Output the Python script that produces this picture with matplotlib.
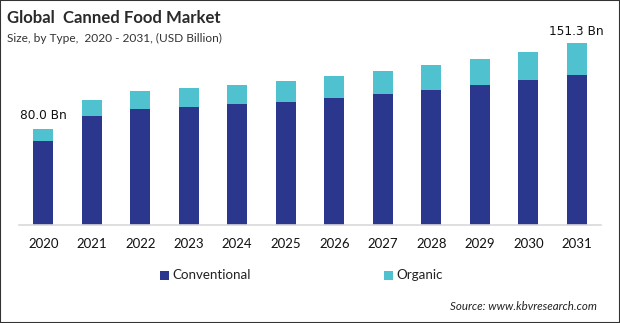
import matplotlib
matplotlib.use("Agg")
import matplotlib.pyplot as plt
from matplotlib.patches import Rectangle

years = ["2020", "2021", "2022", "2023", "2024", "2025", "2026", "2027", "2028", "2029", "2030", "2031"]
conventional = [70.2, 91.1, 96.7, 98.3, 100.8, 102.5, 105.8, 109.2, 112.5, 116.7, 120.8, 125.0]
organic = [9.8, 13.1, 15.0, 15.9, 15.9, 17.5, 18.4, 19.1, 20.8, 21.6, 23.4, 26.3]
first_label = "80.0 Bn"
last_label = "151.3 Bn"

navy = "#2b378c"
teal = "#4fc1cf"

W, H = 620, 323
fig = plt.figure(figsize=(W / 100, H / 100), dpi=100)
fig.patch.set_facecolor("white")
fig.add_artist(Rectangle((0, 0), 1, 1, transform=fig.transFigure, fill=False,
                         edgecolor="#333333", linewidth=1.5))

ax = fig.add_axes([19 / W, (H - 225) / H, (601 - 19) / W, 192 / H])
x = list(range(len(years)))
ax.bar(x, conventional, width=0.41, color=navy, zorder=2)
ax.bar(x, organic, width=0.41, bottom=conventional, color=teal, zorder=2)
ax.set_xlim(-0.5, len(years) - 0.5)
ax.set_ylim(0, 160)
for s in ["top", "right", "left"]:
    ax.spines[s].set_visible(False)
ax.spines["bottom"].set_color("#d9d9d9")
ax.spines["bottom"].set_linewidth(1.2)
ax.set_yticks([])
ax.set_xticks(x)
ax.set_xticklabels(years, fontsize=9.5, family="Lato", color="#111111")
ax.tick_params(axis="x", length=0, pad=9)

tot0 = conventional[0] + organic[0]
totN = conventional[-1] + organic[-1]
ax.annotate(first_label, (0, tot0), xytext=(0, 5), textcoords="offset points",
            ha="center", va="bottom", fontsize=8.7, family="DejaVu Sans", color="#111111")
ax.annotate(last_label, (len(years) - 1, totN), xytext=(0, 4), textcoords="offset points",
            ha="center", va="bottom", fontsize=8.7, family="DejaVu Sans", color="#111111")

fig.text(7 / W, 1 - 18 / H, "Global  Canned Food Market", fontsize=12.1, fontweight="bold",
         family="Lato", color="#2a2a2a", va="center", ha="left")
fig.text(7 / W, 1 - 38 / H, "Size, by Type,  2020 - 2031, (USD Billion)", fontsize=8.6,
         family="Lato", color="#333333", va="center", ha="left")

# legend
ly = 1 - 275 / H
fig.add_artist(Rectangle((160 / W, ly - 4.5 / H), 9 / W, 9 / H, transform=fig.transFigure,
                         facecolor=navy, edgecolor="none"))
fig.text(172 / W, ly, "Conventional", fontsize=9.6, family="Lato", color="#222222", va="center")
fig.add_artist(Rectangle((384 / W, ly - 4.5 / H), 9 / W, 9 / H, transform=fig.transFigure,
                         facecolor=teal, edgecolor="none"))
fig.text(396 / W, ly, "Organic", fontsize=9.6, family="Lato", color="#222222", va="center")

fig.text(597 / W, 1 - 306 / H, "Source: www.kbvresearch.com", fontsize=8.3, style="italic",
         family="Lato", color="#222222", va="center", ha="right")

fig.savefig("out.png", dpi=100)
